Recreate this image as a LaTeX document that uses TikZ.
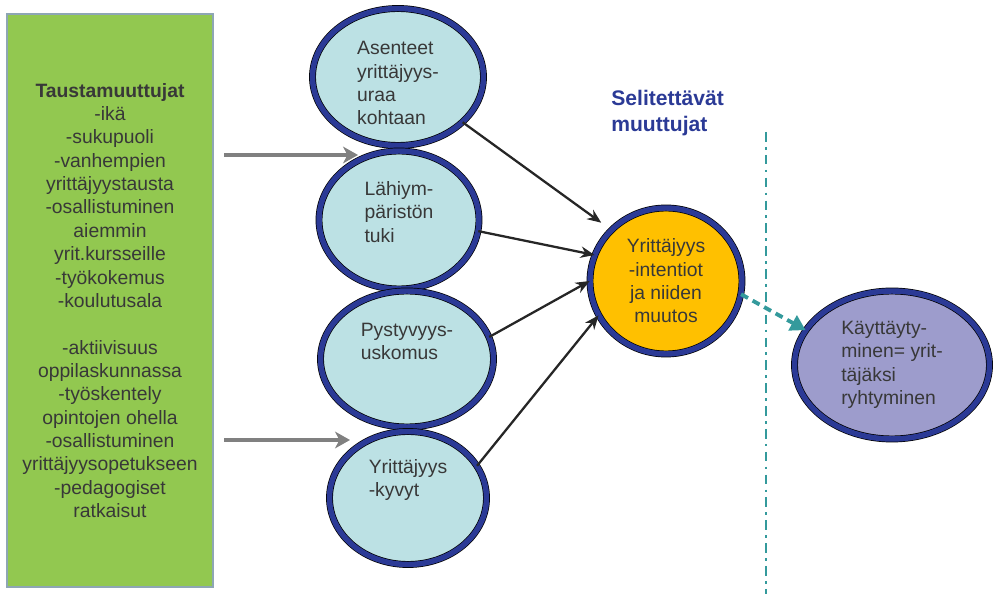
\documentclass[tikz,border=0pt]{standalone}
\usepackage{fontspec}
\setmainfont{Liberation Sans}
\usetikzlibrary{shapes,arrows.meta,positioning,calc}
\definecolor{boxgreen}{HTML}{92C850}
\definecolor{boxedge}{HTML}{8EA6B4}
\definecolor{ovalblue}{HTML}{2B3A96}
\definecolor{ovalcyan}{HTML}{BCE1E4}
\definecolor{intorange}{HTML}{FFC000}
\definecolor{behpurple}{HTML}{9D9CCC}
\definecolor{divteal}{HTML}{349A9C}
\definecolor{textgray}{HTML}{383838}
\definecolor{arrgray}{HTML}{808080}
\newcommand{\padtop}[1]{\rule{0pt}{#1}}
\newcommand{\padbot}[1]{\rule[-#1]{0pt}{0pt}}

\begin{document}
\begin{tikzpicture}[x=0.02cm, y=-0.02cm,
    var oval/.style={ellipse, draw=black, line width=0.4pt, double=ovalblue, double distance=3.1pt, fill=ovalcyan, inner sep=0pt, align=left, text=textgray, font=\fontsize{11}{13.3}\selectfont},
    gray arrow/.style={draw=arrgray, line width=2.3pt, -{Stealth[length=8.5pt, width=9.5pt, inset=2.5pt]}},
    path arrow/.style={draw=black!85, line width=1.3pt, -{Stealth[length=8pt, width=6.5pt]}}]
    \useasboundingbox (0,0) rectangle (995,594);

    % background variables
    \node[draw=boxedge, line width=1.1pt, fill=boxgreen, minimum width=4.12cm, minimum height=11.46cm, inner sep=0pt, align=center, text=textgray, font=\fontsize{11}{13.3}\selectfont] (bg) at (110,300.5)
        {\textbf{Taustamuuttujat}\\-ikä\\-sukupuoli\\-vanhempien\\yrittäjyystausta\\-osallistuminen\\aiemmin\\yrit.kursseille\\-työkokemus\\-koulutusala\\[13.3pt]-aktiivisuus\\oppilaskunnassa\\-työskentely\\opintojen ohella\\-osallistuminen\\yrittäjyysopetukseen\\-pedagogiset\\ratkaisut};

    % explaining variables
    \node[var oval, minimum width=3.42cm, minimum height=2.74cm] (asen) at (398,77) {\padtop{14.7pt}Asenteet\\yrittäjyys-\\uraa\\kohtaan};
    \node[var oval, minimum width=3.2cm, minimum height=2.76cm] (lahi) at (399,220) {Lähiym-\\päristön\\tuki\padbot{9.3pt}};
    \node[var oval, minimum width=3.46cm, minimum height=2.72cm] (pysty) at (407,359) {Pystyvyys-\\uskomus\padbot{20pt}};
    \node[var oval, minimum width=3.14cm, minimum height=2.66cm] (kyky) at (408,498) {Yrittäjyys\\-kyvyt\padbot{22.5pt}};

    \node[var oval, fill=intorange, align=center, minimum width=3.04cm, minimum height=2.92cm] (intent) at (666,281) {Yrittäjyys\\-intentiot\\ja niiden\\muutos};
    \node[var oval, fill=behpurple, minimum width=3.9cm, minimum height=2.96cm] (behav) at (892,365) {Käyttäyty-\\minen= yrit-\\täjäksi\\ryhtyminen};

    \node[anchor=west, align=left, text=ovalblue, font=\fontsize{12}{14.5}\selectfont\bfseries, inner sep=0pt] (expl) at (611,113) {Selitettävät\\muuttujat};

    \coordinate (in1) at (358,155);
    \coordinate (in2) at (350,440);
    \coordinate (divtop) at (766,132);
    \coordinate (divbot) at (766,594);

    \draw[gray arrow] ([xshift=6pt]bg.east |- in1) -- (in1);
    \draw[gray arrow] ([xshift=6pt]bg.east |- in2) -- (in2);

    \draw[path arrow, shorten >=7pt] (asen.-35) -- (intent.137);
    \draw[path arrow] (lahi.-8) -- (intent.160);
    \draw[path arrow] (pysty.15) -- (intent.180);
    \draw[path arrow] (kyky.25) -- (intent.207);

    \draw[divteal, line width=1.5pt, dash pattern=on 5.5pt off 3pt on 1.5pt off 3pt] (divtop) -- (divbot);
    \draw[divteal, line width=2.2pt, dash pattern=on 4.5pt off 3pt, -{Triangle[length=8.5pt, width=9.5pt]}] (intent.-10) -- (behav.158);

\end{tikzpicture}
\end{document}
